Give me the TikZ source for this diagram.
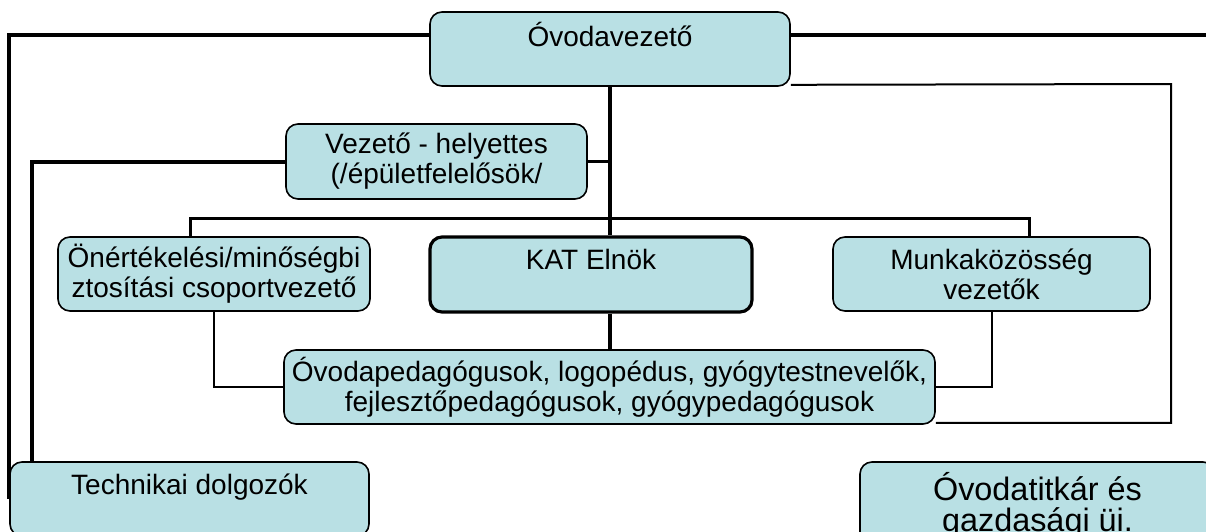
\documentclass[tikz,border=0pt]{standalone}
\usepackage{fontspec}
\setmainfont{Liberation Sans}
\definecolor{boxfill}{HTML}{B9E0E4}
\begin{document}
\begin{tikzpicture}[x=0.5pt,y=-0.5pt,
  orgbox/.style={draw=black, fill=boxfill, rounded corners=6pt, line width=0.8pt,
    inner sep=0pt, align=center, font=\fontsize{14}{15}\selectfont},
  thickline/.style={line width=2pt},
  medline/.style={line width=1.5pt},
  thinline/.style={line width=1pt}]
\useasboundingbox (0,0) rectangle (1206,531);
\node[orgbox, minimum width=180pt, minimum height=37pt] (top) at (610,49) {Óvodavezető\\\mbox{}};
\node[orgbox, minimum width=150.5pt, minimum height=37.5pt] (dep) at (436.5,161.5) {Vezető - helyettes\\(/épületfelelősök/};
\node[orgbox, minimum width=156pt, minimum height=37pt] (self) at (214,274) {Önértékelési/minőségbi\\ztosítási csoportvezető};
\node[orgbox, line width=1.6pt, minimum width=161pt, minimum height=37.5pt] (kat) at (591,274.5) {KAT Elnök\\\mbox{}};
\node[orgbox, minimum width=158.5pt, minimum height=37pt] (munka) at (991.5,274) {Munkaközösség\\vezetők};
\node[orgbox, minimum width=325.5pt, minimum height=37pt] (ped) at (609.5,387) {Óvodapedagógusok, logopédus, gyógytestnevelők,\\fejlesztőpedagógusok, gyógypedagógusok};
\node[orgbox, minimum width=179.5pt, minimum height=37pt] (tech) at (189.5,499) {Technikai dolgozók\\\mbox{}};
\node[orgbox, font=\fontsize{16.2}{15.5}\selectfont, minimum width=177.5pt, minimum height=43pt] (titk) at (1037.5,505) {Óvodatitkár és\\gazdasági üi.};
\coordinate (rEnd) at (1212,35);
\coordinate (rr) at (1171,84);
\coordinate (bl) at (190,218);
\coordinate (br) at (1029,218);
% connectors
\draw[thickline] ([yshift=7pt]top.west) -| (tech.west);
\draw[thickline] ([yshift=7pt]top.east) -- (rEnd);
\draw[thickline] (top.south) -- (top.south |- kat.north);
\draw[thickline] (top.south |- kat.south) -- (top.south |- ped.north);
\draw[thinline] ([yshift=1pt]top.south east) -- (rr) |- ([yshift=1pt]ped.south east);
\draw[medline] (dep.east) -- (dep.east -| top.south);
\draw[thickline] (dep.west) -| ([xshift=11.5pt]tech.north west);
\draw[medline] (self.north -| bl) -- (bl) -- (br) -- (br |- munka.north);
\draw[thinline] (self.south) |- (ped.west);
\draw[thinline] (munka.south) |- (ped.east);
\end{tikzpicture}
\end{document}
